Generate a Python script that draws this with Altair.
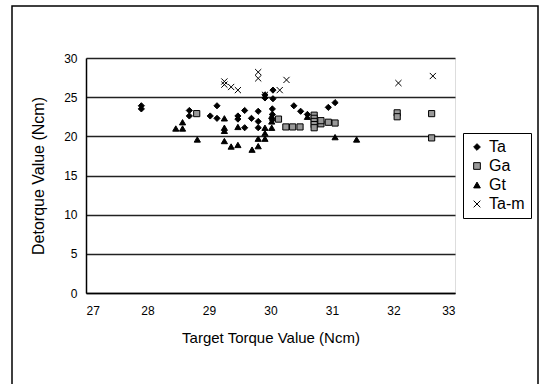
import altair as alt
import pandas as pd

ta_x = [27.9, 27.9, 28.68, 28.68, 29.02, 29.13, 29.13, 29.47, 29.47, 29.58, 29.58, 29.69,
        29.8, 29.8, 29.8, 29.91, 29.91, 30.04, 30.04, 30.03, 30.03, 30.03, 30.38, 30.49,
        30.6, 30.94, 31.05]
ta_y = [23.9, 23.5, 23.3, 22.6, 22.6, 23.9, 22.3, 22.6, 22.2, 23.3, 21.1, 22.3,
        23.2, 21.9, 21.1, 25.3, 24.9, 25.9, 24.8, 23.5, 22.8, 22.1, 23.9, 23.2,
        22.8, 23.7, 24.3]

ga_x = [28.8, 30.13, 30.25, 30.36, 30.48, 30.71, 30.71, 30.71, 30.71, 30.71, 30.82, 30.82,
        30.94, 31.05, 32.06, 32.06, 32.62, 32.62]
ga_y = [22.9, 22.2, 21.2, 21.2, 21.2, 22.7, 22.3, 21.9, 21.5, 21.1, 21.6, 22.0,
        21.8, 21.7, 23.0, 22.5, 22.9, 19.8]

gt_x = [28.46, 28.57, 28.57, 28.81, 29.25, 29.25, 29.25, 29.25, 29.36, 29.47, 29.47, 29.7,
        29.8, 29.8, 29.91, 29.91, 29.91, 30.02, 30.02, 30.02, 30.6, 31.05, 31.4]
gt_y = [21.0, 21.0, 21.8, 19.6, 22.3, 21.1, 20.7, 19.4, 18.7, 21.2, 18.9, 18.3,
        18.75, 19.7, 19.7, 20.4, 21.1, 21.1, 21.9, 22.6, 22.5, 19.9, 19.6]

tam_x = [29.25, 29.25, 29.36, 29.47, 29.8, 29.8, 29.91, 30.15, 30.26, 32.08, 32.64]
tam_y = [27.0, 26.6, 26.3, 25.9, 28.2, 27.4, 25.3, 25.9, 27.2, 26.8, 27.7]

series_names = ["Ta", "Ga", "Gt", "Ta-m"]
x_ticks = [27, 28, 29, 30, 31, 32, 33]
y_ticks = [0, 5, 10, 15, 20, 25, 30]

rows = []
for name, xs, ys in [("Ta", ta_x, ta_y), ("Ga", ga_x, ga_y), ("Gt", gt_x, gt_y), ("Ta-m", tam_x, tam_y)]:
    for a, b in zip(xs, ys):
        rows.append({"series": name, "target": a, "detorque": b})
df = pd.DataFrame(rows)

xpath = "M-1,-1L1,1M1,-1L-1,1"
font = "Liberation Sans"

leg = alt.Legend(title=None, orient="none", legendX=377, legendY=75,
                 strokeColor="black", padding=6, labelFontSize=16,
                 labelColor="black", symbolSize=45, rowPadding=3,
                 symbolStrokeWidth=1, fillColor="white", labelFont=font)

points = alt.Chart(df).mark_point(filled=False, opacity=1, strokeWidth=1, size=38).encode(
    x=alt.X("target:Q", scale=alt.Scale(domain=[27, 33], nice=False, zero=False),
            axis=alt.Axis(values=x_ticks, title="Target Torque Value (Ncm)", grid=False,
                          domainColor="black", domainWidth=1.5, ticks=False,
                          labelPadding=12, labelFontSize=12, titleFontSize=15,
                          titlePadding=14, titleFontWeight="normal", titleColor="black",
                          labelColor="black", format="d")),
    y=alt.Y("detorque:Q", scale=alt.Scale(domain=[0, 30], nice=False),
            axis=alt.Axis(values=y_ticks, title="Detorque Value (Ncm)", grid=True,
                          gridColor="#222", gridWidth=1.4, domainColor="black",
                          domainWidth=1.5, ticks=False, labelPadding=9,
                          labelFontSize=12, titleFontSize=16, titlePadding=17,
                          titleFontWeight="normal", titleColor="black",
                          labelColor="black", format="d")),
    shape=alt.Shape("series:N", scale=alt.Scale(domain=series_names,
                    range=["diamond", "square", "triangle-up", xpath]), legend=leg),
    fill=alt.Fill("series:N", scale=alt.Scale(domain=series_names,
                  range=["black", "#999999", "black", "transparent"]), legend=leg),
    stroke=alt.Stroke("series:N", scale=alt.Scale(domain=series_names,
                      range=["black", "black", "black", "black"]), legend=leg),
)

frame = alt.Chart(pd.DataFrame({"k": [0]})).mark_rect(
    fill=None, stroke="black", strokeWidth=1.5, clip=False
).encode(x=alt.value(-74), x2=alt.value(452), y=alt.value(-52), y2=alt.value(360))

chart = alt.layer(frame, points).properties(
    width=369, height=235,
    autosize=alt.AutoSizeParams(type="none"),
    padding={"left": 86, "top": 58, "right": 86, "bottom": 91},
).configure_view(stroke="#555", strokeWidth=1.5).configure(
    font=font
).configure_axis(labelFont=font, titleFont=font)

chart.save("out.html", embed_options={"renderer": "svg", "actions": False})
